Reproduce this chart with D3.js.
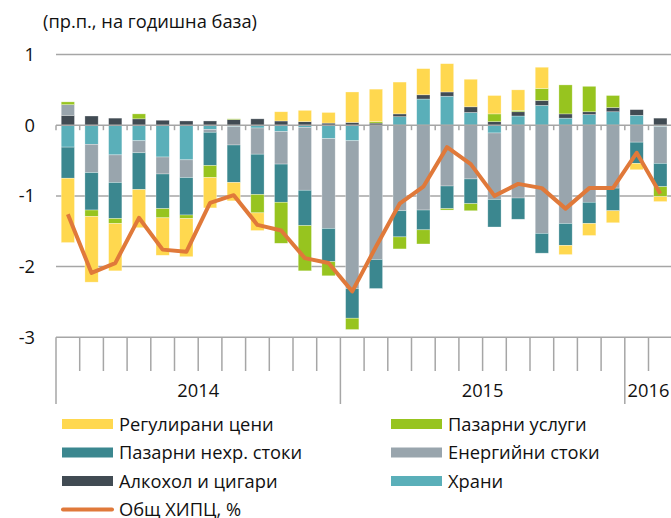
<!DOCTYPE html>
<html>
<head>
<meta charset="utf-8">
<script src="https://cdn.jsdelivr.net/npm/d3@7"></script>
<style>
  body { margin: 0; background: #fff; }
  svg text { font-family: "Open Sans", sans-serif; fill: #111; }
</style>
</head>
<body>
<div id="chart"></div>
<script>
// Months, Jan 2014 - Feb 2016;
var months = ["2014-01", "2014-02", "2014-03", "2014-04", "2014-05", "2014-06", "2014-07", "2014-08", "2014-09", "2014-10", "2014-11", "2014-12",
    "2015-01", "2015-02", "2015-03", "2015-04", "2015-05", "2015-06", "2015-07", "2015-08", "2015-09", "2015-10", "2015-11", "2015-12",
    "2016-01", "2016-02"]
var years = ["2014", "2015", "2016"]

// Contributions, p.p.;
var regulated = [-0.91, -0.93, -0.67, -0.54, -0.53, -0.54, -0.43, -0.26, -0.25, 0.13, 0.16, 0.15,
    0.43, 0.46, 0.45, 0.37, 0.40, 0.39, 0.26, 0.29, 0.30, -0.13, -0.17, -0.17, -0.09, -0.07]
var services = [0.04, -0.09, -0.07, 0.07, -0.13, -0.05, -0.17, 0.01, -0.26, -0.58, -0.64, -0.20,
    -0.16, 0.02, -0.17, -0.20, -0.02, -0.10, 0.11, 0.02, 0.17, 0.41, 0.36, 0.17, 0, -0.14]
var nonfood = [-0.44, -0.53, -0.51, -0.52, -0.49, -0.53, -0.47, -0.53, -0.57, -0.54, -0.50, -0.47,
    -0.42, -0.41, -0.37, -0.28, -0.32, -0.35, -0.39, -0.30, -0.28, -0.31, -0.30, -0.32, -0.30, -0.33]
var energy = [0.15, -0.40, -0.39, -0.17, -0.24, -0.25, -0.04, -0.26, -0.37, -0.46, -0.89, -1.27,
    -2.09, -1.90, -1.21, -1.20, -0.86, -0.76, -0.94, -1.03, -1.53, -1.39, -1.09, -0.89, -0.24, -0.52]
var alcohol = [0.14, 0.13, 0.10, 0.09, 0.07, 0.06, 0.06, 0.08, 0.09, 0.06, 0.05, 0.03,
    0.04, 0.03, 0.04, 0.06, 0.06, 0.08, 0.05, 0.06, 0.07, 0.06, 0.04, 0.06, 0.08, 0.10]
var food = [-0.31, -0.27, -0.42, -0.22, -0.45, -0.49, -0.06, -0.02, -0.04, -0.09, -0.03, -0.19,
    -0.22, 0, 0.12, 0.37, 0.41, 0.18, -0.11, 0.13, 0.28, 0.10, 0.15, 0.19, 0.14, -0.02]

// Headline HICP, %;
var hicp = [-1.26, -2.09, -1.95, -1.31, -1.76, -1.79, -1.10, -0.99, -1.41, -1.49, -1.88, -1.95,
    -2.35, -1.72, -1.11, -0.87, -0.31, -0.55, -1.00, -0.83, -0.89, -1.18, -0.89, -0.89, -0.39, -0.97]

var yTicks = [1, 0, -1, -2, -3]

// Series in stacking order (from zero outwards);
var series = [
    { key: "food", name: "Храни", values: food, color: "#5aafb9" },
    { key: "alcohol", name: "Алкохол и цигари", values: alcohol, color: "#414b53" },
    { key: "energy", name: "Енергийни стоки", values: energy, color: "#99a5ad" },
    { key: "nonfood", name: "Пазарни нехр. стоки", values: nonfood, color: "#3b878f" },
    { key: "services", name: "Пазарни услуги", values: services, color: "#97c41f" },
    { key: "regulated", name: "Регулирани цени", values: regulated, color: "#ffd84f" }
]
var lineColor = "#e0793a"

// Legend layout, in reading order;
var legendOrder = ["regulated", "services", "nonfood", "energy", "alcohol", "food"]

/////////////////////////////

var width = 671
var height = 518
var gridColor = "#a6a6a6"
var fontSize = 18.3

var svg = d3.select("#chart").append("svg")
    .attr("width", width)
    .attr("height", height)

var table = months.map((m, i) => {
    var row = { month: m }
    series.forEach(s => row[s.key] = s.values[i])
    return row
})

var x = d3.scaleBand()
    .domain(months)
    .range([56, 56 + 23.7 * months.length])
    .paddingInner(0.44)
    .paddingOuter(0.22)

var y = d3.scaleLinear()
    .domain([-3, 1])
    .range([337.3, 54.5])

var step = x.step()
var x0 = x.range()[0]

// Gridlines;
svg.append("g")
    .selectAll("line")
    .data([1, -1, -2])
    .join("line")
    .attr("x1", x0).attr("x2", width)
    .attr("y1", d => y(d)).attr("y2", d => y(d))
    .attr("stroke", gridColor)
    .attr("stroke-width", 1.5)

// Y labels;
svg.append("g")
    .selectAll("text")
    .data(yTicks)
    .join("text")
    .attr("x", 35)
    .attr("y", d => y(d))
    .attr("dy", "0.36em")
    .attr("text-anchor", "end")
    .attr("font-size", fontSize)
    .text(d => d)

svg.append("text")
    .attr("x", 43)
    .attr("y", 28)
    .attr("font-size", fontSize)
    .text("(пр.п., на годишна база)")

// Stacked bars;
var stacked = d3.stack()
    .keys(series.map(s => s.key))
    .offset(d3.stackOffsetDiverging)(table)

svg.append("g")
    .selectAll("g")
    .data(stacked)
    .join("g")
    .attr("fill", (d, i) => series[i].color)
    .selectAll("rect")
    .data(d => d)
    .join("rect")
    .attr("x", d => x(d.data.month))
    .attr("width", x.bandwidth())
    .attr("y", d => y(Math.max(d[0], d[1])))
    .attr("height", d => Math.abs(y(d[0]) - y(d[1])))
    .attr("stroke", "#fff")
    .attr("stroke-opacity", 0.5)
    .attr("stroke-width", 0.6)

// Zero axis with month ticks;
var boundaries = d3.range(months.length + 1).map(i => x0 + i * step)
svg.append("line")
    .attr("x1", x0).attr("x2", width)
    .attr("y1", y(0)).attr("y2", y(0))
    .attr("stroke", gridColor).attr("stroke-width", 1.5)
svg.append("g")
    .selectAll("line")
    .data(boundaries)
    .join("line")
    .attr("x1", d => d).attr("x2", d => d)
    .attr("y1", y(0)).attr("y2", y(0) + 5)
    .attr("stroke", gridColor).attr("stroke-width", 1.5)

// Bottom category axis;
svg.append("line")
    .attr("x1", x0).attr("x2", width)
    .attr("y1", y(-3)).attr("y2", y(-3))
    .attr("stroke", gridColor).attr("stroke-width", 1.5)
svg.append("g")
    .selectAll("line")
    .data(boundaries.map((b, i) => ({ x: b, yearStart: i % 12 == 0 })))
    .join("line")
    .attr("x1", d => d.x).attr("x2", d => d.x)
    .attr("y1", y(-3))
    .attr("y2", d => d.yearStart ? 404 : 371)
    .attr("stroke", gridColor).attr("stroke-width", 1.5)

svg.append("g")
    .selectAll("text")
    .data(years)
    .join("text")
    .attr("x", yr => {
        var ms = months.filter(m => m.startsWith(yr))
        return (x(ms[0]) + x(ms[ms.length - 1]) + x.bandwidth()) / 2
    })
    .attr("y", 390)
    .attr("dy", "0.36em")
    .attr("text-anchor", "middle")
    .attr("font-size", fontSize)
    .text(d => d)

// HICP line;
var line = d3.line()
    .x((d, i) => x(months[i]) + x.bandwidth() / 2)
    .y(d => y(d))

svg.append("path")
    .datum(hicp)
    .attr("d", line)
    .attr("fill", "none")
    .attr("stroke", lineColor)
    .attr("stroke-width", 4)
    .attr("stroke-linejoin", "round")

// Legend;
var legendItems = legendOrder.map(k => series.find(s => s.key == k))
var legend = svg.append("g")
    .selectAll("g")
    .data(legendItems)
    .join("g")
    .attr("transform", (d, i) => `translate(${i % 2 == 0 ? 62 : 391},${424 + Math.floor(i / 2) * 28.5})`)

legend.append("rect")
    .attr("x", 0).attr("y", -5)
    .attr("width", 51).attr("height", 10)
    .attr("fill", d => d.color)

legend.append("text")
    .attr("x", 57)
    .attr("dy", "0.36em")
    .attr("font-size", fontSize)
    .text(d => d.name)

var lineLegend = svg.append("g")
    .attr("transform", `translate(62,${424 + 3 * 28.5})`)
lineLegend.append("line")
    .attr("x1", 1).attr("x2", 50)
    .attr("stroke", lineColor)
    .attr("stroke-width", 4)
    .attr("stroke-linecap", "round")
lineLegend.append("text")
    .attr("x", 57)
    .attr("dy", "0.33em")
    .attr("font-size", fontSize)
    .text("Общ ХИПЦ, %")
</script>
</body>
</html>
